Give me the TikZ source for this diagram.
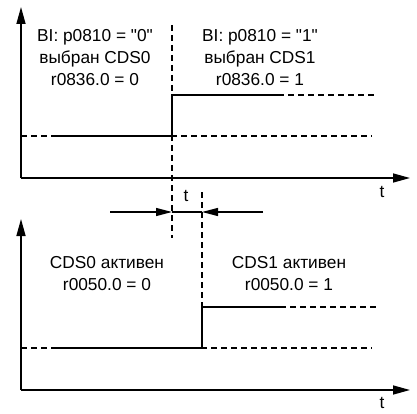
\documentclass[tikz,border=0pt]{standalone}
\usepackage{fontspec}
\setmainfont{Liberation Sans}
\usetikzlibrary{arrows.meta, positioning}

\tikzset{
  axis/.style={line width=1.5pt, -{Triangle[length=17pt,width=9pt]}},
  signal/.style={line width=1.5pt},
  guide/.style={line width=1.3pt, dash pattern=on 6pt off 4pt},
  gap/.style={line width=1.3pt, -{Triangle[length=16pt,width=8pt]}},
  note/.style={align=center, inner sep=0pt, font=\fontsize{17.3}{22}\selectfont},
}

\begin{document}
\begin{tikzpicture}[x=1pt, y=-1pt]
  \useasboundingbox (0,0) rectangle (417,414);

  % upper plot: BI p0810
  \coordinate (o1) at (21,178);
  \coordinate (y1) at (21,7);
  \coordinate (x1) at (410,178);
  \draw[axis] (o1) -- (y1);
  \draw[axis] (o1) -- (x1);
  \node[note] (t1) at (382,192) {t};

  \coordinate (lo1s) at (21,136);
  \coordinate (lo1e) at (372,136);
  \coordinate (sig1a) at (57,136);
  \coordinate (sig1b) at (172,136);
  \coordinate (sig1c) at (172,95);
  \coordinate (sig1d) at (278,95);
  \coordinate (hi1e) at (377,95);
  \draw[guide] (lo1s) -- (lo1e);
  \draw[guide] (sig1d) -- (hi1e);
  \draw[signal] (sig1a) -- (sig1b) -- (sig1c) -- (sig1d);

  \node[note] (sel0) at (95,58) {BI: p0810 = \textquotedbl 0\textquotedbl\\выбран CDS0\\r0836.0 = 0};
  \node[note] (sel1) at (260,58) {BI: p0810 = \textquotedbl 1\textquotedbl\\выбран CDS1\\r0836.0 = 1};

  % switch-over time
  \coordinate (cut1a) at (172,25);
  \coordinate (cut1b) at (172,238);
  \coordinate (cut2a) at (202,192);
  \coordinate (ga) at (110,212);
  \coordinate (gb) at (172,212);
  \coordinate (gc) at (202,212);
  \coordinate (gd) at (263,212);
  \draw[guide] (cut1a) -- (cut1b);
  \draw[gap] (ga) -- (gb);
  \draw[gap] (gd) -- (gc);
  \draw[line width=1.3pt] (gb) -- (gc);
  \node[note] (dt) at (186,196) {t};

  % lower plot: r0050
  \coordinate (o2) at (21,390);
  \coordinate (y2) at (21,219);
  \coordinate (x2) at (410,390);
  \draw[axis] (o2) -- (y2);
  \draw[axis] (o2) -- (x2);
  \node[note] (t2) at (382,403) {t};

  \coordinate (lo2s) at (21,348);
  \coordinate (lo2e) at (372,348);
  \coordinate (sig2a) at (57,348);
  \coordinate (sig2b) at (202,348);
  \coordinate (sig2c) at (202,307);
  \coordinate (sig2d) at (280,307);
  \coordinate (hi2e) at (377,307);
  \draw[guide] (lo2s) -- (lo2e);
  \draw[guide] (cut2a) -- (sig2c);
  \draw[guide] (sig2d) -- (hi2e);
  \draw[signal] (sig2a) -- (sig2b) -- (sig2c) -- (sig2d);

  \node[note] (act0) at (107,273.5) {CDS0 активен\\r0050.0 = 0};
  \node[note] (act1) at (289,273.5) {CDS1 активен\\r0050.0 = 1};
\end{tikzpicture}
\end{document}
